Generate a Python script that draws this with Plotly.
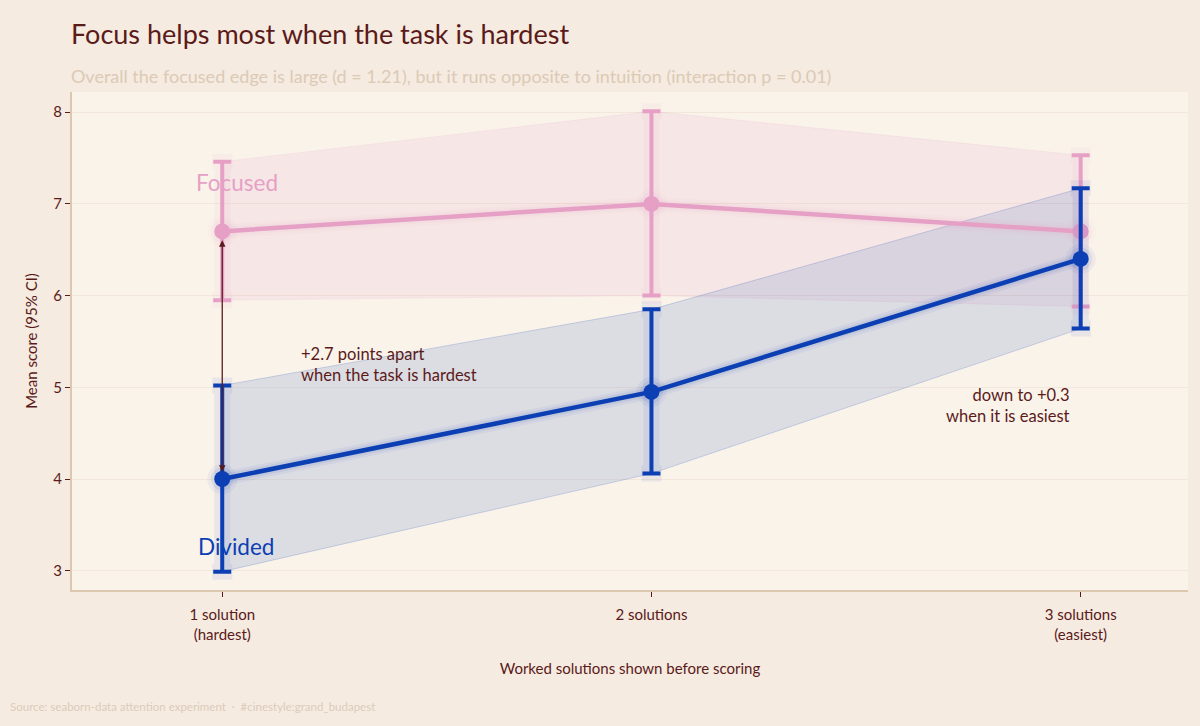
import plotly.graph_objects as go

categories = ["1 solution<br>(hardest)", "2 solutions", "3 solutions<br>(easiest)"]
x_pos = [0, 1, 2]

focused_mean = [6.70, 7.00, 6.70]
focused_lo = [5.95, 6.00, 5.88]
focused_hi = [7.46, 8.01, 7.53]

divided_mean = [4.00, 4.95, 6.40]
divided_lo = [2.99, 4.06, 5.64]
divided_hi = [5.02, 5.85, 7.17]

PINK = "#e6a0c6"
BLUE = "#0b3fb3"
DARK = "#5b1a1a"
PAPER = "#f5ebe0"
PLOT = "#faf3ea"
FONT = "Lato"

fig = go.Figure()


def band(lo, hi, rgb, a_fill, a_line):
    fig.add_trace(go.Scatter(
        x=x_pos + x_pos[::-1], y=hi + lo[::-1], fill="toself",
        fillcolor=f"rgba({rgb},{a_fill})",
        line=dict(color=f"rgba({rgb},{a_line})", width=1),
        mode="lines", hoverinfo="skip", showlegend=False))


band(focused_lo, focused_hi, "230,160,198", 0.15, 0.12)
band(divided_lo, divided_hi, "11,63,179", 0.12, 0.18)


def series(mean, lo, hi, color, rgb):
    err_p = [h - m for h, m in zip(hi, mean)]
    err_m = [m - l for m, l in zip(mean, lo)]
    # soft glow
    for w, a in [(14, 0.05), (9, 0.08)]:
        fig.add_trace(go.Scatter(
            x=x_pos, y=mean, mode="lines",
            line=dict(color=f"rgba({rgb},{a})", width=w),
            hoverinfo="skip", showlegend=False))
    for s, a in [(30, 0.05), (23, 0.08)]:
        fig.add_trace(go.Scatter(
            x=x_pos, y=mean, mode="markers",
            marker=dict(size=s, color=f"rgba({rgb},{a})"),
            hoverinfo="skip", showlegend=False))
    fig.add_trace(go.Scatter(
        x=x_pos, y=mean, mode="markers",
        marker=dict(size=1, color="rgba(0,0,0,0)"),
        error_y=dict(type="data", symmetric=False, array=err_p, arrayminus=err_m,
                     color=f"rgba({rgb},0.07)", thickness=16, width=10),
        hoverinfo="skip", showlegend=False))
    fig.add_trace(go.Scatter(
        x=x_pos, y=mean, mode="lines+markers",
        line=dict(color=color, width=4.5),
        marker=dict(size=16, color=color),
        error_y=dict(type="data", symmetric=False, array=err_p, arrayminus=err_m,
                     color=color, thickness=4, width=9),
        showlegend=False))


series(focused_mean, focused_lo, focused_hi, PINK, "230,160,198")
series(divided_mean, divided_lo, divided_hi, BLUE, "11,63,179")

# arrow between the groups at the hardest condition
fig.add_annotation(x=x_pos[0], y=divided_mean[0] + 0.08, ax=x_pos[0], ay=focused_mean[0] - 0.08,
                   xref="x", yref="y", axref="x", ayref="y", text="",
                   showarrow=True, arrowhead=2, arrowside="end+start",
                   arrowsize=1, arrowwidth=1.3, arrowcolor=DARK, standoff=0, startstandoff=0)

fig.add_annotation(x=0.18, y=5.25, xref="x", yref="y",
                   text="+2.7 points apart<br>when the task is hardest",
                   showarrow=False, xanchor="left", align="left",
                   font=dict(family=FONT, size=16.5, color=DARK))
fig.add_annotation(x=1.98, y=4.8, xref="x", yref="y",
                   text="down to +0.3<br>when it is easiest",
                   showarrow=False, xanchor="right", align="right",
                   font=dict(family=FONT, size=16.5, color=DARK))

fig.add_annotation(x=x_pos[0] + 0.035, y=7.23, xref="x", yref="y", text="Focused",
                   showarrow=False, font=dict(family=FONT, size=22.5, color=PINK))
fig.add_annotation(x=x_pos[0] + 0.033, y=3.26, xref="x", yref="y", text="Divided",
                   showarrow=False, font=dict(family=FONT, size=22.5, color=BLUE))

PH = 498.0  # plot-area height in px
PW = 1116.0  # plot-area width in px
# title, subtitle and source in paper coords
fig.add_annotation(x=-3 / PW, y=(590 - 33) / PH, xref="paper", yref="paper", xanchor="left", yanchor="middle",
                   text="Focus helps most when the task is hardest", showarrow=False,
                   font=dict(family=FONT, size=27, color=DARK))
fig.add_annotation(x=-3 / PW, y=(590 - 76) / PH, xref="paper", yref="paper", xanchor="left", yanchor="middle",
                   text="Overall the focused edge is large (d = 1.21), but it runs opposite to intuition "
                        "(interaction p = 0.01)", showarrow=False,
                   font=dict(family=FONT, size=18, color="#dccab6"))
fig.add_annotation(x=-64 / PW, y=(590 - 706) / PH, xref="paper", yref="paper", xanchor="left",
                   yanchor="middle",
                   text="Source: seaborn-data attention experiment  ·  #cinestyle:grand_budapest",
                   showarrow=False, font=dict(family=FONT, size=11.5, color="#dccbbb"))

fig.update_layout(
    width=1200, height=726,
    paper_bgcolor=PAPER, plot_bgcolor=PLOT,
    margin=dict(l=72, r=12, t=92, b=136),
    font=dict(family=FONT, color=DARK, size=15),
    xaxis=dict(range=[-0.35, 2.25], tickvals=x_pos, ticktext=categories,
               showgrid=False, zeroline=False, showline=True, linecolor="#dcc8ae", linewidth=2,
               ticks="outside", ticklen=5, tickcolor=DARK, tickwidth=1, ticklabelstandoff=5,
               title=dict(text="Worked solutions shown before scoring", standoff=22,
                          font=dict(family=FONT, size=15, color=DARK)),
               tickfont=dict(family=FONT, size=15, color=DARK)),
    yaxis=dict(range=[2.79, 8.22], tickvals=[3, 4, 5, 6, 7, 8],
               showgrid=True, gridcolor="#f3e6da", gridwidth=1, zeroline=False,
               showline=True, linecolor="#dcc8ae", linewidth=2,
               ticks="outside", ticklen=5, tickcolor=DARK, tickwidth=1,
               title=dict(text="Mean score (95% CI)", standoff=12,
                          font=dict(family=FONT, size=15, color=DARK)),
               tickfont=dict(family=FONT, size=15, color=DARK)),
)

fig.write_html("out.html")
